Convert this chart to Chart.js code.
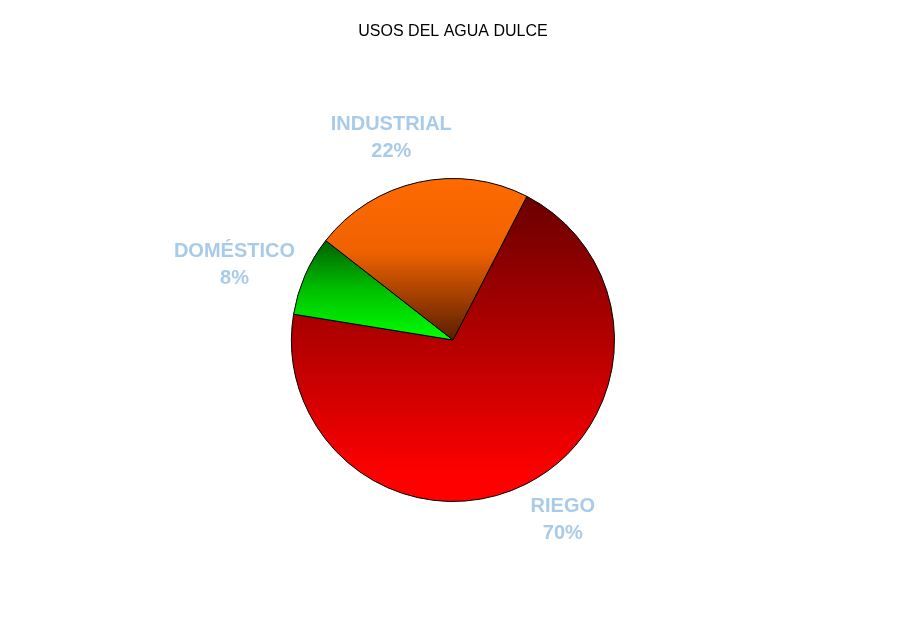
<!DOCTYPE html>
<html>
<head>
<meta charset="utf-8">
<script src="https://cdn.jsdelivr.net/npm/chart.js@4.4.0/dist/chart.umd.min.js"></script>
<style>
html,body{margin:0;padding:0;background:#fff;}
#wrap{width:900px;height:624px;}
</style>
</head>
<body>
<div id="wrap"><canvas id="c" width="900" height="624"></canvas></div>
<script>
const chartTitle = 'USOS DEL AGUA DULCE';
const categories = ['RIEGO', 'DOMÉSTICO', 'INDUSTRIAL'];
const values = [70, 8, 22];
const gradientStops = [
  [[0, '#6a0000'], [0.5, '#b80000'], [0.92, '#ff0000'], [1, '#ff0000']],
  [[0, '#006000'], [0.5, '#00c000'], [1, '#00ff00']],
  [[0, '#ff6a00'], [0.45, '#f06200'], [1, '#5a1e00']]
];
const startRotation = 27.2;

const total = values.reduce((a, b) => a + b, 0);

function sliceYRange(i, cx, cy, r) {
  let start = -Math.PI / 2 + startRotation * Math.PI / 180;
  for (let k = 0; k < i; k++) start += values[k] / total * 2 * Math.PI;
  const end = start + values[i] / total * 2 * Math.PI;
  const ys = [cy, cy + r * Math.sin(start), cy + r * Math.sin(end)];
  for (let a = -Math.PI / 2 - 4 * Math.PI; a <= end + 4 * Math.PI; a += Math.PI) {
    if (a > start && a < end) ys.push(cy + r * Math.sin(a));
  }
  return [Math.min(...ys), Math.max(...ys)];
}

function sliceFill(context) {
  const chart = context.chart;
  const area = chart.chartArea;
  const i = context.dataIndex;
  if (!area) return gradientStops[i][1][1];
  const cx = (area.left + area.right) / 2;
  const cy = (area.top + area.bottom) / 2;
  const r = Math.min(area.right - area.left, area.bottom - area.top) / 2;
  const [y0, y1] = sliceYRange(i, cx, cy, r);
  const g = chart.ctx.createLinearGradient(0, y0, 0, y1);
  gradientStops[i].forEach(s => g.addColorStop(s[0], s[1]));
  return g;
}

const outsideLabels = {
  id: 'outsideLabels',
  afterDatasetsDraw(chart) {
    const ctx = chart.ctx;
    const meta = chart.getDatasetMeta(0);
    ctx.save();
    ctx.font = 'bold 20px "Liberation Sans", Arial, sans-serif';
    ctx.fillStyle = '#a9cbea';
    ctx.textAlign = 'center';
    ctx.textBaseline = 'middle';
    meta.data.forEach((arc, i) => {
      const p = arc.getProps(['x', 'y', 'startAngle', 'endAngle', 'outerRadius'], true);
      const mid = (p.startAngle + p.endAngle) / 2 - 0.08;
      const w = ctx.measureText(categories[i]).width;
      const d = p.outerRadius + 41 + Math.abs(Math.cos(mid)) * w * 0.25;
      const x = p.x + Math.cos(mid) * d;
      const y = p.y + Math.sin(mid) * d;
      ctx.fillText(categories[i], x, y - 13.5);
      const pct = Math.round(values[i] / total * 100) + '%';
      ctx.fillText(pct, x, y + 13.5);
    });
    ctx.restore();
  }
};

new Chart(document.getElementById('c'), {
  type: 'pie',
  data: {
    labels: categories,
    datasets: [{
      data: values,
      backgroundColor: sliceFill,
      borderColor: '#000000',
      borderWidth: 1,
      hoverOffset: 0
    }]
  },
  options: {
    responsive: false,
    animation: false,
    rotation: startRotation,
    layout: { padding: { left: 291, right: 285, bottom: 122, top: 0 } },
    plugins: {
      legend: { display: false },
      tooltip: { enabled: false },
      title: {
        display: true,
        text: chartTitle,
        color: '#000000',
        font: { family: '"Liberation Sans", Arial, sans-serif', size: 16, weight: 'normal', lineHeight: 1.2 },
        padding: { top: 21.5, bottom: 137.3 }
      }
    }
  },
  plugins: [outsideLabels]
});
</script>
</body>
</html>
